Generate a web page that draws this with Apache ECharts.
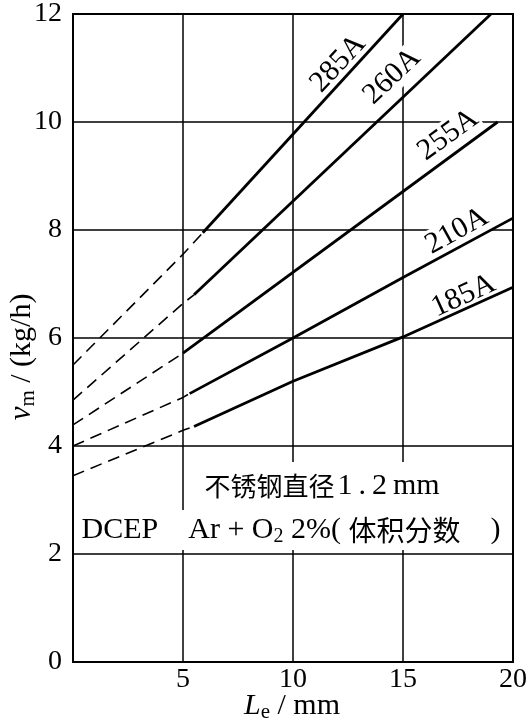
<!DOCTYPE html>
<html><head><meta charset="utf-8">
<script src="https://cdn.jsdelivr.net/npm/echarts@6/dist/echarts.min.js"></script>
<style>html,body{margin:0;padding:0;background:#fff}#c{width:530px;height:724px}</style>
</head><body><div id="c"></div>
<script>
// ---- data ----
const xTicks = [0, 5, 10, 15, 20];
const yTicks = [0, 2, 4, 6, 8, 10, 12];
const curveNames = ['285A', '260A', '255A', '210A', '185A'];
// dashed (extrapolated) parts
const dashed285 = [[0, 5.5], [5, 7.55], [5.9, 7.95]];
const dashed260 = [[0, 4.85], [5, 6.64], [5.5, 6.8]];
const dashed255 = [[0, 4.39], [5, 5.72]];
const dashed210 = [[0, 4.0], [5, 4.9], [5.3, 4.97]];
const dashed185 = [[0, 3.45], [5, 4.29], [5.5, 4.36]];
// solid (measured) parts
const solid285 = [[5.9, 7.95], [15, 12]];
const solid260 = [[5.5, 6.8], [19, 12]];
const solid255 = [[5, 5.72], [19.3, 10.0]];
const solid210 = [[5.3, 4.97], [10, 6.0], [15, 7.12], [20, 8.22]];
const solid185 = [[5.5, 4.36], [10, 5.2], [15, 6.02], [20, 6.94]];
// curve label anchors (data coords) and angles
const labelAnchors = [[12.05, 11.08], [14.5, 10.84], [17.05, 9.76], [17.45, 7.98], [17.75, 6.78]];
const labelAngles = [47, 43.6, 36, 29, 24.5];

const dashedSets = [dashed285, dashed260, dashed255, dashed210, dashed185];
const solidSets = [solid285, solid260, solid255, solid210, solid185];

const SERIF = 'Liberation Serif';
const CJK = 'Noto Sans CJK SC';

const chart = echarts.init(document.getElementById('c'), null, {renderer: 'canvas'});

const series = [];
curveNames.forEach((n, i) => {
  series.push({
    name: n + ' dashed', type: 'line', data: dashedSets[i], symbol: 'none', silent: true,
    lineStyle: {color: '#000', width: 1.6, type: [12, 7]}, z: 3
  });
  series.push({
    name: n, type: 'line', data: solidSets[i], symbol: 'none', silent: true,
    lineStyle: {color: '#000', width: 2.8}, z: 3
  });
});

const option = {
  backgroundColor: '#fff',
  animation: false,
  grid: {left: 73, right: 16, top: 5, bottom: 62, show: true, borderColor: '#000', borderWidth: 2, backgroundColor: 'transparent'},
  xAxis: {
    type: 'value', min: 0, max: 20, interval: 5,
    axisLine: {show: true, lineStyle: {color: '#000', width: 2}},
    axisTick: {show: false},
    splitLine: {show: true, lineStyle: {color: '#000', width: 1.5}},
    axisLabel: {
      color: '#000', fontFamily: SERIF, fontSize: 28, margin: 4,
      formatter: v => (xTicks.includes(v) && v !== 0) ? String(v) : ''
    }
  },
  yAxis: {
    type: 'value', min: 0, max: 12, interval: 2,
    axisLine: {show: true, lineStyle: {color: '#000', width: 2}},
    axisTick: {show: false},
    splitLine: {show: true, lineStyle: {color: '#000', width: 1.5}},
    axisLabel: {
      color: '#000', fontFamily: SERIF, fontSize: 28, margin: 11,
      formatter: v => yTicks.includes(v) ? String(v) : ''
    }
  },
  series: series
};
chart.setOption(option);

// static texts
const graphics = [
  {
    id: 'yname', type: 'text', x: 22, y: 357, rotation: Math.PI / 2, z: 10,
    style: {
      text: '{i|v}{s|m}{n| / (kg/h)}', align: 'center', verticalAlign: 'middle',
      rich: {
        i: {fontFamily: SERIF, fontStyle: 'italic', fontSize: 31, lineHeight: 34, verticalAlign: 'middle', fill: '#000'},
        s: {fontFamily: SERIF, fontSize: 21, lineHeight: 22, verticalAlign: 'bottom', fill: '#000'},
        n: {fontFamily: SERIF, fontSize: 30, lineHeight: 34, verticalAlign: 'middle', fill: '#000'}
      }
    }
  },
  {
    id: 'xname', type: 'text', x: 292, y: 706, z: 10,
    style: {
      text: '{i|L}{s|e}{n| / mm}', align: 'center', verticalAlign: 'middle',
      rich: {
        i: {fontFamily: SERIF, fontStyle: 'italic', fontSize: 30, lineHeight: 34, verticalAlign: 'middle', fill: '#000'},
        s: {fontFamily: SERIF, fontSize: 21, lineHeight: 22, verticalAlign: 'bottom', fill: '#000'},
        n: {fontFamily: SERIF, fontSize: 30, lineHeight: 34, verticalAlign: 'middle', fill: '#000'}
      }
    }
  },
  {
    id: 'note1', type: 'text', x: 322, y: 486, z: 10,
    style: {
      text: '{c|不锈钢直径}{d|1}{d|.}{d|2}{m|mm}', align: 'center', verticalAlign: 'middle',
      backgroundColor: '#fff', padding: [8, 14],
      rich: {
        c: {fontFamily: CJK, fontSize: 26, lineHeight: 32, fill: '#000'},
        d: {fontFamily: SERIF, fontSize: 30, lineHeight: 32, padding: [0, 3], fill: '#000'},
        m: {fontFamily: SERIF, fontSize: 30, lineHeight: 32, padding: [0, 0, 0, 3], fill: '#000'}
      }
    }
  },
  {
    id: 'note2', type: 'text', x: 291, y: 530, z: 10,
    style: {
      text: '{n|DCEP    Ar + O}{s|2}{n| 2%( }{c|体积分数}{n|    )}', align: 'center', verticalAlign: 'middle',
      backgroundColor: '#fff', padding: [3, 4],
      rich: {
        c: {fontFamily: CJK, fontSize: 28, lineHeight: 34, verticalAlign: 'middle', fill: '#000'},
        n: {fontFamily: SERIF, fontSize: 30, lineHeight: 34, verticalAlign: 'middle', fill: '#000'},
        s: {fontFamily: SERIF, fontSize: 20, lineHeight: 24, verticalAlign: 'bottom', fill: '#000'}
      }
    }
  }
];
// curve labels placed through the chart's own scales
curveNames.forEach((n, i) => {
  const p = chart.convertToPixel({gridIndex: 0}, labelAnchors[i]);
  graphics.push({
    id: 'lab' + i, type: 'text', x: p[0], y: p[1], rotation: labelAngles[i] * Math.PI / 180, z: 2,
    style: {
      text: n, align: 'center', verticalAlign: 'middle',
      fontFamily: SERIF, fontSize: 30, fill: '#000',
      backgroundColor: '#fff', padding: [0, 2]
    }
  });
});
chart.setOption({graphic: graphics});
</script>
</body></html>
